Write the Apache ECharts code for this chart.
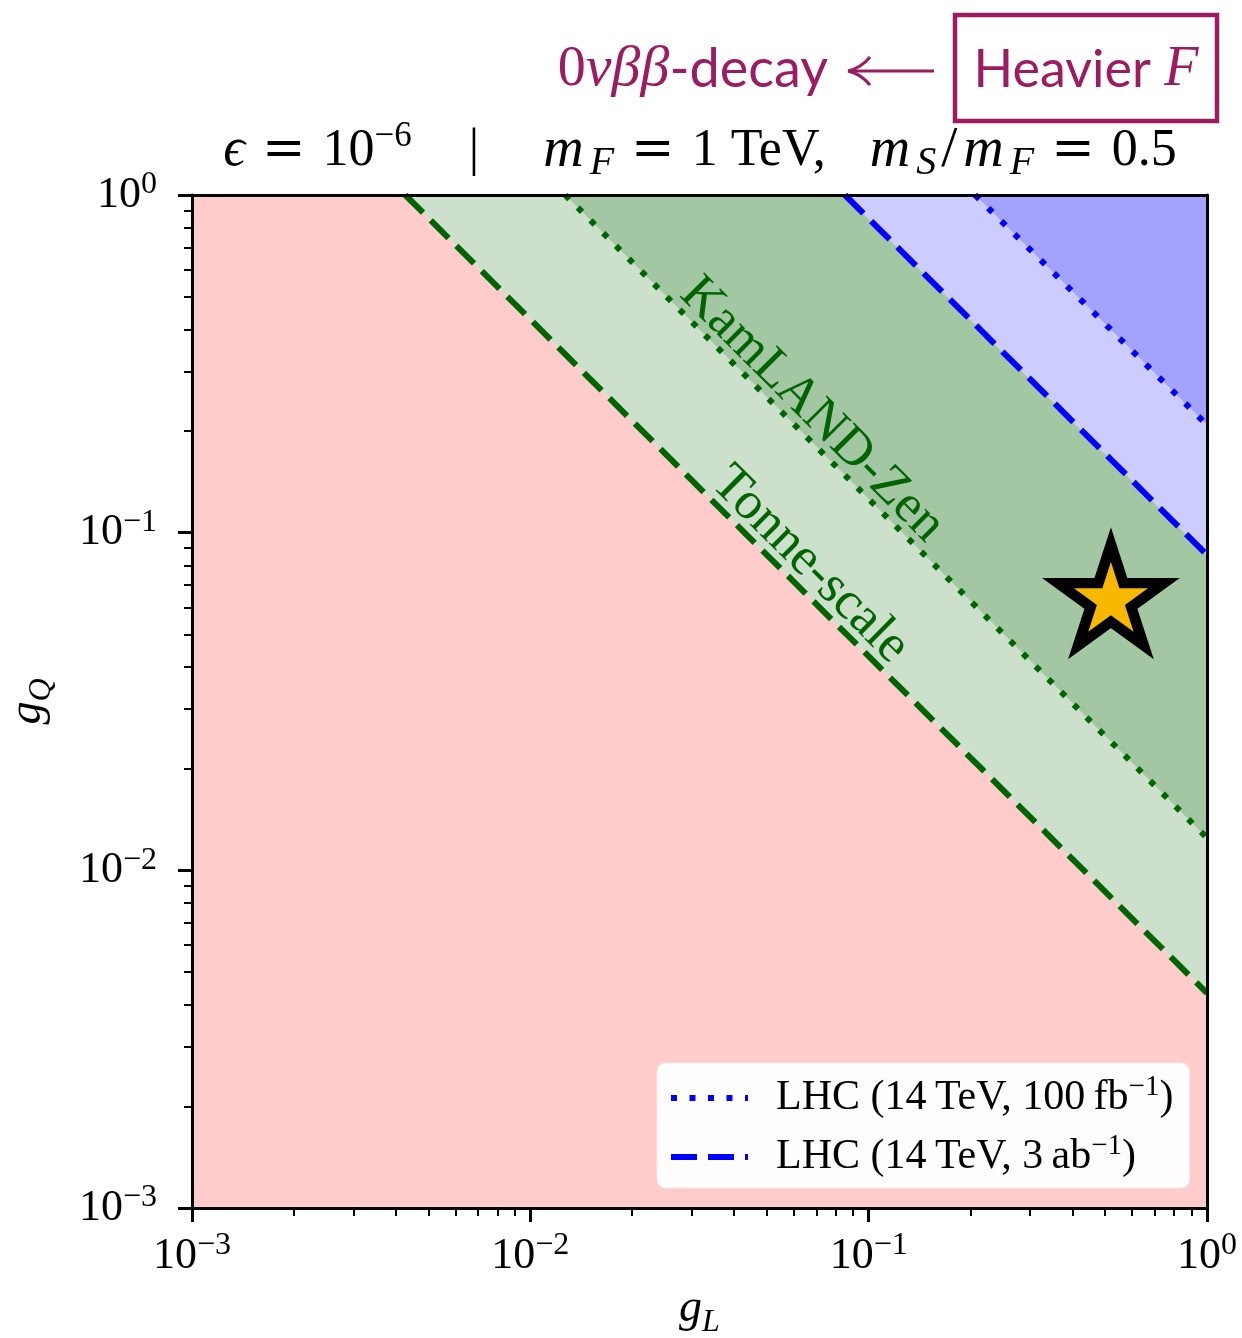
<!DOCTYPE html>
<html><head><meta charset="utf-8">
<script src="https://cdn.jsdelivr.net/npm/echarts@6.0.0/dist/echarts.min.js"></script>
<style>html,body{margin:0;padding:0;background:#fff}#c{width:1242px;height:1338px}</style>
</head><body><div id="c"></div>
<script>
// ---- data ----
const xRange = [0.001, 1];
const yRange = [0.001, 1];
const majorTickExponents = [-3, -2, -1, 0];
const minorMultipliers = [2, 3, 4, 5, 6, 7, 8, 9];

// boundary lines [gL, gQ] end points (straight in log-log)
const tonneLine    = [[0.00427, 1], [1, 0.00433]];
const kamlandLine  = [[0.01267, 1], [1, 0.01247]];
const lhc3abLine   = [[0.0851, 1], [1, 0.0859]];
const lhc100fbLine = [[0.2063, 1], [1, 0.2084]];
const benchmarkStar = [[0.52, 0.063]];
const kamlandLabelPos = [0.068, 0.231];
const tonneLabelPos = [0.0671, 0.0802];
const legendNames = ['LHC (14\u2009TeV, 100\u2009fb^−1)', 'LHC (14\u2009TeV, 3\u2009ab^−1)'];

// ---- styling ----
const SERIF = '"Liberation Serif", "DejaVu Serif", serif';
const SANS = 'Lato, "Open Sans", sans-serif';
const MAROON = '#9c1c62';
const GREEN = '#006400';
const BLUE = '#0000ff';

const regions = [
  {color: '#ffcccc', pts: [[xRange[0], yRange[0]], [xRange[0], yRange[1]], tonneLine[0], tonneLine[1], [xRange[1], yRange[0]]]},
  {color: '#cce0cc', pts: [tonneLine[0], kamlandLine[0], kamlandLine[1], tonneLine[1]]},
  {color: '#a3c7a3', pts: [kamlandLine[0], lhc3abLine[0], lhc3abLine[1], kamlandLine[1]]},
  {color: '#ccccff', pts: [lhc3abLine[0], lhc100fbLine[0], lhc100fbLine[1], lhc3abLine[1]]},
  {color: '#a3a3ff', pts: [lhc100fbLine[0], [xRange[1], yRange[1]], lhc100fbLine[1]]}
];

const minorTicks = [];
for (let d = majorTickExponents[0]; d < majorTickExponents[majorTickExponents.length - 1]; d++) {
  minorMultipliers.forEach(k => minorTicks.push(d + Math.log10(k)));
}

function expLabel(v) {
  const e = Math.round(Math.log10(v));
  return '{b|10}{s|' + (e < 0 ? '−' + (-e) : e) + '}';
}
const tickRich = {
  b: {fontFamily: SERIF, fontSize: 44, color: '#000', lineHeight: 52, verticalAlign: 'middle'},
  s: {fontFamily: SERIF, fontSize: 32, color: '#000', lineHeight: 30, verticalAlign: 'top'}
};

// star symbol (5 points, matplotlib-like inner ratio)
function starPath() {
  const R = 100, r = 38.2;
  let p = '';
  for (let i = 0; i < 10; i++) {
    const a = -Math.PI / 2 + i * Math.PI / 5;
    const rad = i % 2 === 0 ? R : r;
    p += (i === 0 ? 'M' : 'L') + (rad * Math.cos(a)).toFixed(2) + ' ' + (rad * Math.sin(a)).toFixed(2) + ' ';
  }
  return 'path://' + p + 'Z';
}

const chart = echarts.init(document.getElementById('c'), null, {renderer: 'canvas'});
const gridBox = {left: 192, top: 195, right: 35, bottom: 130, containLabel: false, outerBoundsMode: 'none'};

function lineSeries(name, pts, color, dash) {
  return {
    type: 'line', name: name, data: pts, xAxisIndex: 0, yAxisIndex: 0,
    symbol: 'none', z: 5, silent: true,
    lineStyle: {color: color, width: 6, type: dash, cap: 'butt'},
    itemStyle: {color: color}
  };
}
const nameRich = {
  i: {fontFamily: SERIF, fontStyle: 'italic', fontSize: 46, color: '#000', lineHeight: 60, verticalAlign: 'middle'},
  sub: {fontFamily: SERIF, fontStyle: 'italic', fontSize: 32, color: '#000', lineHeight: 44, verticalAlign: 'bottom'}
};
function frameAxis(pos) {
  return {type: 'value', gridIndex: 1, min: -3, max: 0, position: pos, z: 10,
    axisLine: {show: true, onZero: false, lineStyle: {color: '#000', width: 3}},
    axisTick: {show: false}, axisLabel: {show: false}, splitLine: {show: false}};
}
function minorAxis(pos) {
  return {type: 'value', gridIndex: 1, min: -3, max: 0, position: pos, z: 10,
    axisLine: {show: false, onZero: false}, splitLine: {show: false}, axisLabel: {show: false},
    axisTick: {show: true, inside: false, length: 8, customValues: minorTicks, lineStyle: {color: '#000', width: 2}}};
}

const option = {
  animation: false,
  backgroundColor: '#fff',
  grid: [Object.assign({}, gridBox), Object.assign({}, gridBox)],
  xAxis: [
    {type: 'log', gridIndex: 0, min: xRange[0], max: xRange[1], logBase: 10, position: 'bottom', z: 10,
     axisLine: {show: true, onZero: false, lineStyle: {color: '#000', width: 3}},
     axisTick: {show: true, inside: false, length: 14, lineStyle: {color: '#000', width: 3}},
     splitLine: {show: false}, minorTick: {show: false},
     axisLabel: {formatter: expLabel, margin: 22, rich: tickRich},
     name: '{i|g}{sub|L}', nameLocation: 'middle', nameGap: 71,
     nameTextStyle: {rich: nameRich}
    },
    minorAxis('bottom'),
    frameAxis('top')
  ],
  yAxis: [
    {type: 'log', gridIndex: 0, min: yRange[0], max: yRange[1], logBase: 10, position: 'left', z: 10,
     axisLine: {show: true, onZero: false, lineStyle: {color: '#000', width: 3}},
     axisTick: {show: true, inside: false, length: 14, lineStyle: {color: '#000', width: 3}},
     splitLine: {show: false}, minorTick: {show: false},
     axisLabel: {formatter: expLabel, margin: 35, rich: tickRich},
     name: '{i|g}{sub|Q}', nameLocation: 'middle', nameGap: 134,
     nameTextStyle: {rich: nameRich}
    },
    minorAxis('left'),
    frameAxis('right')
  ],
  legend: {
    orient: 'vertical', left: 657, top: 1063,
    data: [legendNames[0], legendNames[1]],
    itemWidth: 77, itemHeight: 20, itemGap: 13,
    padding: [10, 16, 10, 11],
    backgroundColor: 'rgba(255,255,255,0.96)', borderColor: '#ececec', borderWidth: 1, borderRadius: 8,
    selectedMode: false,
    itemStyle: {opacity: 0},
    lineStyle: {width: 6},
    formatter: function (name) {
      const parts = name.split('^');
      const sup = parts[1].slice(0, 2), rest = parts[1].slice(2);
      return '{a0|' + parts[0] + '}{s|' + sup + '}{a|' + rest + '}';
    },
    textStyle: {fontFamily: SERIF, fontSize: 42, color: '#000', rich: {
      a0: {fontFamily: SERIF, fontSize: 42, color: '#000', lineHeight: 50, verticalAlign: 'middle', padding: [0, 0, 0, 23]},
      a: {fontFamily: SERIF, fontSize: 42, color: '#000', lineHeight: 50, verticalAlign: 'middle'},
      s: {fontFamily: SERIF, fontSize: 29, color: '#000', lineHeight: 28, verticalAlign: 'top'}
    }}
  },
  series: [
    {
      type: 'custom', name: 'regions', xAxisIndex: 0, yAxisIndex: 0, z: 1, silent: true,
      data: regions.map(r => r.pts[0]),
      encode: {x: 0, y: 1},
      renderItem: function (params, api) {
        const reg = regions[params.dataIndex];
        return {type: 'polygon', shape: {points: reg.pts.map(p => api.coord(p))}, style: {fill: reg.color}};
      }
    },
    lineSeries('tonne', tonneLine, GREEN, [25, 11]),
    lineSeries('kamland', kamlandLine, GREEN, [6, 12]),
    lineSeries(legendNames[1], lhc3abLine, BLUE, [26, 11]),
    lineSeries(legendNames[0], lhc100fbLine, BLUE, [6, 12.5]),
    {
      type: 'custom', name: 'labels', xAxisIndex: 0, yAxisIndex: 0, z: 6, silent: true,
      data: [kamlandLabelPos, tonneLabelPos],
      encode: {x: 0, y: 1},
      renderItem: function (params, api) {
        const texts = ['KamLAND-Zen', 'Tonne-scale'];
        const ln = params.dataIndex === 0 ? kamlandLine : tonneLine;
        const a = api.coord(ln[0]), b = api.coord(ln[1]);
        const ang = Math.atan2(b[1] - a[1], b[0] - a[0]);
        const c = api.coord([api.value(0), api.value(1)]);
        return {type: 'text', x: c[0], y: c[1], rotation: -ang,
          style: {text: texts[params.dataIndex], fill: GREEN, font: '53px ' + SERIF, align: 'center', verticalAlign: 'middle'}};
      }
    },
    {
      type: 'scatter', name: 'benchmark', xAxisIndex: 0, yAxisIndex: 0, z: 7, silent: true,
      data: benchmarkStar,
      symbol: starPath(), symbolSize: [106, 101], symbolOffset: [0, '-5.3%'],
      itemStyle: {color: '#f9b800', borderColor: '#000', borderWidth: 10.5, opacity: 1}
    }
  ],
  graphic: [
    {type: 'text', x: 700, y: 151, z: 20, style: {
      text: '{i|ϵ}{op|=}{n|10}{sup|−6}{bar||}{m|m}{sub|F}{op|=}{n|1 TeV,}{sp| }{m|m}{sub|S}{sl|/}{m|m}{sub|F}{op|=}{n|0.5}',
      align: 'center', verticalAlign: 'middle',
      rich: {
        i: {fontFamily: SERIF, fontStyle: 'italic', fontSize: 54, fill: '#000', lineHeight: 64, verticalAlign: 'middle'},
        m: {fontFamily: SERIF, fontStyle: 'italic', fontSize: 56, fill: '#000', lineHeight: 64, verticalAlign: 'middle', padding: [0, 6, 0, 5]},
        n: {fontFamily: SERIF, fontSize: 52, fill: '#000', lineHeight: 64, verticalAlign: 'middle'},
        sl: {fontFamily: SERIF, fontSize: 58, fill: '#000', lineHeight: 64, verticalAlign: 'middle', padding: [0, 1, 0, 5]},
        op: {fontFamily: '"DejaVu Serif", serif', fontSize: 52, fill: '#000', lineHeight: 64, verticalAlign: 'middle', padding: [0, 17, 0, 17]},
        bar: {fontFamily: SERIF, fontSize: 52, fill: '#000', lineHeight: 64, verticalAlign: 'middle', padding: [0, 59, 0, 57]},
        sp: {fontFamily: SERIF, fontSize: 52, fill: '#000', lineHeight: 64, verticalAlign: 'middle', padding: [0, 26, 0, 0]},
        sup: {fontFamily: SERIF, fontSize: 35, fill: '#000', lineHeight: 40, verticalAlign: 'top'},
        sub: {fontFamily: SERIF, fontStyle: 'italic', fontSize: 40, fill: '#000', lineHeight: 33, verticalAlign: 'bottom'}
      }}},
    {type: 'text', x: 828, y: 70, z: 20, style: {
      text: '{z|0}{g|νββ}{s|-decay}', align: 'right', verticalAlign: 'middle',
      rich: {
        z: {fontFamily: SERIF, fontSize: 56, fill: MAROON},
        g: {fontFamily: SERIF, fontStyle: 'italic', fontSize: 58, fill: MAROON},
        s: {fontFamily: SANS, fontSize: 54, fill: MAROON}
      }}},
    {type: 'line', z: 20, shape: {x1: 850, y1: 71, x2: 934, y2: 71}, style: {stroke: MAROON, lineWidth: 3}},
    {type: 'bezierCurve', z: 20, shape: {x1: 870, y1: 57, cpx1: 861, cpy1: 68, x2: 848, y2: 71}, style: {stroke: MAROON, lineWidth: 3, fill: null}},
    {type: 'bezierCurve', z: 20, shape: {x1: 870, y1: 85, cpx1: 861, cpy1: 74, x2: 848, y2: 71}, style: {stroke: MAROON, lineWidth: 3, fill: null}},
    {type: 'rect', z: 20, shape: {x: 955, y: 15, width: 262, height: 106}, style: {stroke: MAROON, lineWidth: 4.5, fill: null}},
    {type: 'text', x: 1086, y: 70, z: 20, style: {
      text: '{s|Heavier }{f|F}', align: 'center', verticalAlign: 'middle',
      rich: {
        s: {fontFamily: SANS, fontSize: 52, fill: MAROON},
        f: {fontFamily: SERIF, fontStyle: 'italic', fontSize: 56, fill: MAROON}
      }}}
  ]
};
chart.setOption(option);
</script>
</body></html>
